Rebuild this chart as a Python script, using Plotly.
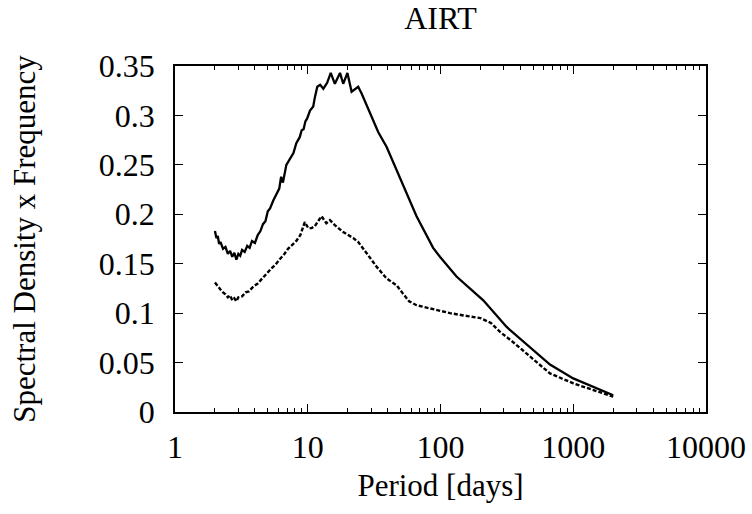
import plotly.graph_objects as go

# Solid curve (period in days, spectral density x frequency)
solid_period = [2.0, 2.05, 2.1, 2.15, 2.2, 2.3, 2.4, 2.5, 2.6, 2.7, 2.8, 2.9, 3.0, 3.1, 3.2, 3.35,
                3.5, 3.65, 3.8, 4.0, 4.2, 4.4, 4.6, 4.8, 5.0, 5.2, 5.5, 5.8, 6.1, 6.3, 6.5, 6.9,
                7.2, 7.5, 7.8, 8.2, 8.7, 9.0, 9.3, 9.6, 9.9, 10.4, 11.0, 11.3, 11.8, 12.4, 13.1,
                14.0, 14.9, 16.0, 17.5, 18.5, 19.9, 21.4, 24.0, 25.5, 29.4, 34.0, 39.3, 49.5,
                66, 88, 99, 132, 210, 315, 500, 668, 1000, 2000]
solid_value = [0.183, 0.176, 0.178, 0.170, 0.172, 0.165, 0.167, 0.160, 0.163, 0.157, 0.161, 0.154,
               0.160, 0.158, 0.164, 0.162, 0.168, 0.166, 0.173, 0.171, 0.179, 0.183, 0.190, 0.193,
               0.203, 0.206, 0.214, 0.221, 0.226, 0.238, 0.232, 0.250, 0.254, 0.259, 0.262, 0.272,
               0.278, 0.285, 0.286, 0.294, 0.297, 0.305, 0.309, 0.318, 0.329, 0.331, 0.327, 0.333,
               0.343, 0.332, 0.343, 0.332, 0.343, 0.324, 0.329, 0.322, 0.303, 0.283, 0.268, 0.236,
               0.198, 0.166, 0.157, 0.137, 0.113, 0.086, 0.063, 0.048, 0.034, 0.017]

# Dashed curve
dashed_period = [2.0, 2.1, 2.2, 2.3, 2.4, 2.5, 2.6, 2.7, 2.8, 2.9, 3.0, 3.2, 3.4, 3.6, 3.9, 4.2,
                 4.5, 4.9, 5.3, 5.7, 6.2, 6.6, 7.1, 7.6, 8.2, 8.8, 9.5, 10.1, 10.7, 11.3, 12.0,
                 12.7, 13.8, 14.7, 16.0, 18.5, 22, 24, 27.8, 33, 39.3, 46.8, 52, 58, 66, 90, 118,
                 160, 200, 240, 281, 350, 446, 668, 1000, 2000]
dashed_value = [0.131, 0.127, 0.124, 0.121, 0.119, 0.116, 0.118, 0.113, 0.115, 0.112, 0.116, 0.117,
                0.121, 0.122, 0.127, 0.130, 0.134, 0.140, 0.145, 0.149, 0.155, 0.159, 0.165, 0.169,
                0.173, 0.179, 0.192, 0.186, 0.186, 0.188, 0.193, 0.198, 0.191, 0.194, 0.189, 0.182,
                0.176, 0.172, 0.1605, 0.147, 0.135, 0.128, 0.120, 0.112, 0.108, 0.104, 0.100, 0.097,
                0.095, 0.090, 0.081, 0.071, 0.059, 0.039, 0.029, 0.0155]

x_tick_vals = [1, 10, 100, 1000, 10000]
x_tick_text = ["1", "10", "100", "1000", "10000"]
y_tick_vals = [0, 0.05, 0.1, 0.15, 0.2, 0.25, 0.3, 0.35]
y_tick_text = ["0", "0.05", "0.1", "0.15", "0.2", "0.25", "0.3", "0.35"]

minor_x = [m * d for d in (1, 10, 100, 1000) for m in range(2, 10)]

FONT = "Liberation Serif"

fig = go.Figure()
fig.add_trace(go.Scatter(x=solid_period, y=solid_value, mode="lines",
                         line=dict(color="black", width=2.3), showlegend=False))
fig.add_trace(go.Scatter(x=dashed_period, y=dashed_value, mode="lines",
                         line=dict(color="black", width=2.4, dash="4px,2px"), showlegend=False))

axis_common = dict(showline=True, linecolor="black", linewidth=1.5, mirror="allticks",
                   ticks="inside", ticklen=8, tickwidth=1, tickcolor="black",
                   showgrid=False, zeroline=False,
                   tickfont=dict(family=FONT, size=32, color="black"))

fig.update_xaxes(type="log", range=[0, 4], tickmode="array", tickvals=x_tick_vals,
                 ticktext=x_tick_text,
                 minor=dict(tickmode="array", tickvals=minor_x, ticks="inside", ticklen=4,
                            tickwidth=1, tickcolor="black", showgrid=False),
                 title=dict(text="Period [days]", font=dict(family=FONT, size=31, color="black"),
                            standoff=10),
                 ticklabelstandoff=6,
                 **axis_common)
fig.update_yaxes(range=[0, 0.35], tickmode="array", tickvals=y_tick_vals, ticktext=y_tick_text,
                 title=dict(text="Spectral Density x Frequency",
                            font=dict(family=FONT, size=31, color="black"), standoff=54),
                 ticklabelstandoff=12,
                 **axis_common)

fig.update_layout(
    width=752, height=514,
    margin=dict(l=175, r=46, t=66, b=102, autoexpand=False),
    paper_bgcolor="white", plot_bgcolor="white",
    font=dict(family=FONT),
    title=dict(text="AIRT", font=dict(family=FONT, size=32, color="black"),
               x=(175 + 706) / 2 / 752, xanchor="center", xref="container",
               y=1 - 18 / 514, yanchor="middle", yref="container"),
)

fig.write_html("out.html")
